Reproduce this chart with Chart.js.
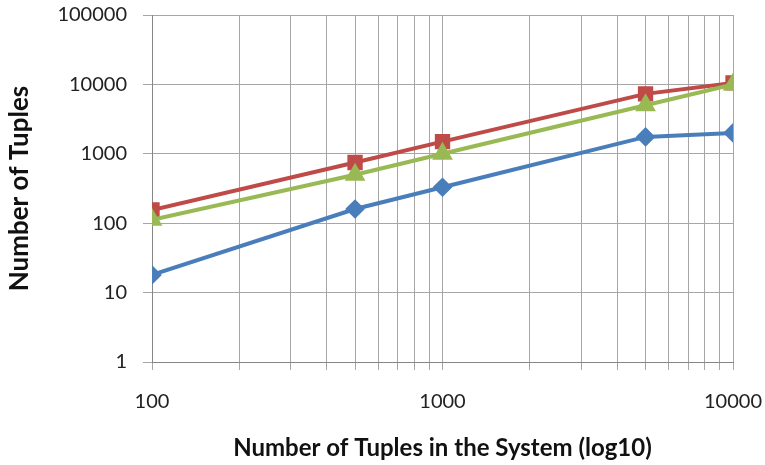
<!DOCTYPE html>
<html lang="en">
  <head>
    <meta charset="UTF-8" />
    <title>Number of Tuples</title>
    <script src="https://cdn.jsdelivr.net/npm/chart.js@4.4.0/dist/chart.umd.min.js"></script>
    <style>
      html, body { margin: 0; padding: 0; background: #fff; }
      #wrap { width: 765px; height: 465px; }
    </style>
  </head>
  <body>
    <div id="wrap"><canvas id="chart"></canvas></div>
  <script>
// data
const systemTuples = [100, 500, 1000, 5000, 10000];
const blueSeries  = [18, 160, 330, 1750, 2000];
const redSeries   = [155, 750, 1500, 7300, 10500];
const greenSeries = [112, 500, 1000, 5000, 10000];

const xTickValues = [100, 200, 300, 400, 500, 600, 700, 800, 900,
                     1000, 2000, 3000, 4000, 5000, 6000, 7000, 8000, 9000, 10000];
const xTickLabels = ['100', '1000', '10000'];
const yTickValues = [1, 10, 100, 1000, 10000, 100000];

const font = 'Lato, "Open Sans", sans-serif';

function pts(ys) {
  return systemTuples.map((x, i) => ({ x: x, y: ys[i] }));
}

const ctx = document.getElementById('chart').getContext('2d');
const myChart = new Chart(ctx, {
  type: 'line',
  data: {
    datasets: [{
      label: 'blue',
      data: pts(blueSeries),
      borderColor: '#4a7ebb',
      backgroundColor: '#4a7ebb',
      borderWidth: 4,
      pointStyle: 'rectRot',
      pointRadius: 7,
      order: 3
    }, {
      label: 'red',
      data: pts(redSeries),
      borderColor: '#be4b48',
      backgroundColor: '#be4b48',
      borderWidth: 4,
      pointStyle: 'rect',
      pointRadius: 8,
      order: 2
    }, {
      label: 'green',
      data: pts(greenSeries),
      borderColor: '#98b954',
      backgroundColor: '#98b954',
      borderWidth: 4,
      pointStyle: 'triangle',
      pointRadius: 8,
      order: 1
    }]
  },
  options: {
    responsive: true,
    maintainAspectRatio: false,
    animation: false,
    layout: { padding: { top: 15, right: 32, left: 0, bottom: 0 } },
    plugins: { legend: { display: false }, tooltip: { enabled: false } },
    scales: {
      x: {
        type: 'logarithmic',
        min: 100,
        max: 10000,
        afterBuildTicks: axis => { axis.ticks = xTickValues.map(v => ({ value: v })); },
        afterFit: axis => {
          axis.height = 103;
          axis.paddingLeft = 0;
          axis.paddingRight = 0;
        },
        grid: { color: '#a6a6a6', lineWidth: 1, tickLength: 8 },
        border: { color: '#868686', width: 1 },
        ticks: {
          autoSkip: false,
          maxRotation: 0,
          padding: 20,
          color: '#222',
          font: { family: font, size: 20 },
          callback: function (value) {
            const s = String(value);
            return xTickLabels.includes(s) ? s : '';
          }
        },
        title: {
          display: true,
          text: 'Number of Tuples in the System (log10)',
          color: '#111',
          font: { family: font, size: 24, weight: 'bold' },
          padding: { top: 0, bottom: 2 }
        }
      },
      y: {
        type: 'logarithmic',
        min: 1,
        max: 100000,
        afterBuildTicks: axis => { axis.ticks = yTickValues.map(v => ({ value: v })); },
        afterFit: axis => {
          axis.width = 152;
          axis.paddingTop = 0;
          axis.paddingBottom = 0;
        },
        grid: { color: '#a6a6a6', lineWidth: 1, tickLength: 9 },
        border: { color: '#868686', width: 1 },
        ticks: {
          padding: 16,
          color: '#222',
          font: { family: font, size: 20 },
          callback: value => String(value)
        },
        title: {
          display: true,
          text: 'Number of Tuples',
          color: '#111',
          font: { family: font, size: 26, weight: 'bold' },
          padding: { top: 4, bottom: 0 }
        }
      }
    }
  }
});
  </script>
  </body>
</html>
